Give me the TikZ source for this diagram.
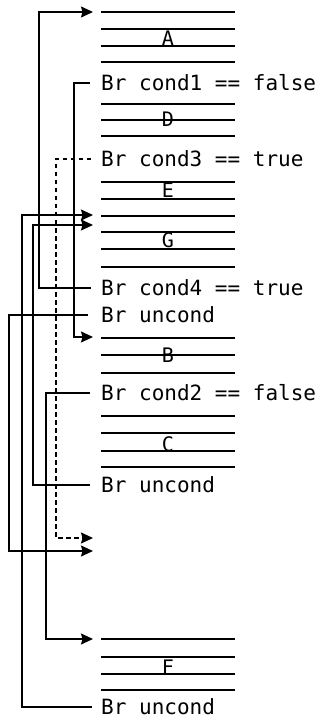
\documentclass[tikz,border=0pt]{standalone}
\usepackage{fontspec}
\newfontfamily\codefont{DejaVu Sans Mono}
\usetikzlibrary{arrows.meta}
\tikzset{tipshape/.tip={Stealth[length=12pt,width=11pt,inset=1.5pt]}}
\begin{document}
\begin{tikzpicture}[x=1pt,y=-1pt,
  code/.style={anchor=west,inner sep=0pt,text height=15.3pt,text depth=0pt,
    font=\codefont\fontsize{21}{21}\selectfont},
  lab/.style={anchor=base,inner sep=0pt,font=\codefont\fontsize{20}{20}\selectfont},
  blk/.style={line width=1.3pt},
  conn/.style={line width=1.3pt,-tipshape},
  dconn/.style={conn,dash pattern=on 4.5pt off 3.5pt}]
\useasboundingbox (0,0) rectangle (322,719);
% code lines
\node[code] (t1) at (101,83) {Br cond1 == false};
\node[code] (t3) at (101,159) {Br cond3 == true};
\node[code] (t4) at (101,288) {Br cond4 == true};
\node[code] (u1) at (101,315) {Br uncond};
\node[code] (t2) at (101,393) {Br cond2 == false};
\node[code] (u2) at (101,485) {Br uncond};
\node[code] (u3) at (101,707) {Br uncond};
% block lines
\foreach \y in {12,29,46,62, 104,120,136, 182,199, 216,232,249,267, 338,355,373, 416,433,451,467, 639,657,674,690}
  \draw[blk] (101,\y) -- (235,\y);
% block labels
\node[lab] (lA) at (168,46) {A};
\node[lab] (lD) at (168,127) {D};
\node[lab] (lE) at (168,197) {E};
\node[lab] (lG) at (168,247.5) {G};
\node[lab] (lB) at (168,362) {B};
\node[lab] (lC) at (168,451) {C};
\node[lab] (lF) at (168,674) {F};
% arrow targets
\coordinate (aA) at (93,12);
\coordinate (aG1) at (93,215);
\coordinate (aG2) at (93,225);
\coordinate (aB) at (93,337);
\coordinate (aE1) at (93,538);
\coordinate (aE2) at (93,551);
\coordinate (aF) at (93,639);
% connectors
\draw[conn] ([xshift=-10pt]t4.west) -- ++(-52,0) |- (aA);
\draw[conn] ([xshift=-11pt]t1.west) -- ++(-16,0) |- (aB);
\draw[dconn] ([xshift=-10pt]t3.west) -- ++(-35,0) |- (aE1);
\draw[conn] ([xshift=-13pt]u1.west) -- ++(-79,0) |- (aE2);
\draw[conn] ([xshift=-11pt]t2.west) -- ++(-44,0) |- (aF);
\draw[conn] ([xshift=-11pt]u2.west) -- ++(-57,0) |- (aG2);
\draw[conn] ([xshift=-9pt]u3.west) -- ++(-70,0) |- (aG1);
\end{tikzpicture}
\end{document}
